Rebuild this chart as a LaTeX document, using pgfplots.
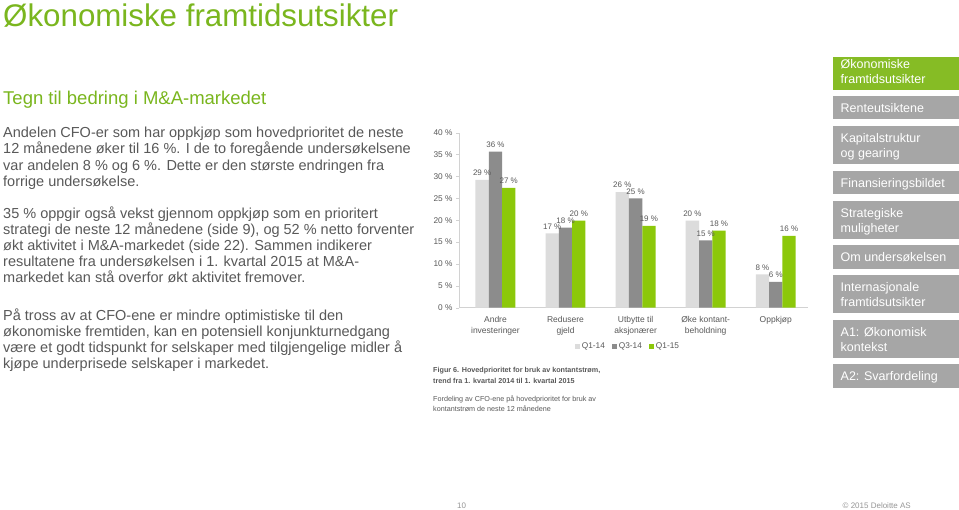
\documentclass[border=0pt]{standalone}
\usepackage{fontspec}
\setmainfont{Liberation Sans}
\usepackage{pgfplots}
\pgfplotsset{compat=1.18}

\definecolor{titlegreen}{RGB}{122,182,30}
\definecolor{sidegreen}{RGB}{134,188,37}
\definecolor{bargreen}{RGB}{140,200,10}
\definecolor{lightbar}{RGB}{220,220,220}
\definecolor{darkbar}{RGB}{140,140,140}
\definecolor{txt}{RGB}{89,89,89}
\definecolor{sidegray}{RGB}{166,166,166}
\definecolor{axisgray}{RGB}{210,210,210}
\definecolor{footgray}{RGB}{150,150,150}

\newcommand{\fs}[2][1.2]{\fontsize{#2}{#1\dimexpr #2pt\relax}\selectfont}

\begin{document}
\begin{tikzpicture}
\begin{scope}[x=1pt,y=1pt]
\path[use as bounding box, fill=white] (0,0) rectangle (959,509);

% titles (y counted from the top: 509 - y)
\node[anchor=base west, inner sep=0, text=titlegreen, font=\fs{31.3}] at (3,509-27) {Økonomiske framtidsutsikter};
\node[anchor=base west, inner sep=0, text=titlegreen, font=\fs{18.5}] at (3,509-105) {Tegn til bedring i M\&A-markedet};

% body text
\begin{scope}[every node/.style={anchor=base west, inner sep=0, text=txt, font=\fs{14.5}}]
\node at (3,509-137.7) {Andelen CFO-er som har oppkjøp som hovedprioritet de neste};
\node at (3,509-153.9) {12 månedene øker til 16 \%. I de to foregående undersøkelsene};
\node at (3,509-170.1) {var andelen 8 \% og 6 \%. Dette er den største endringen fra};
\node at (3,509-186.3) {forrige undersøkelse.};

\node at (3,509-218.5) {35 \% oppgir også vekst gjennom oppkjøp som en prioritert};
\node at (3,509-234.6) {strategi de neste 12 månedene (side 9), og 52 \% netto forventer};
\node at (3,509-250.7) {økt aktivitet i M\&A-markedet (side 22). Sammen indikerer};
\node at (3,509-266.8) {resultatene fra undersøkelsen i 1. kvartal 2015 at M\&A-};
\node at (3,509-282.9) {markedet kan stå overfor økt aktivitet fremover.};

\node at (3,509-320.7) {På tross av at CFO-ene er mindre optimistiske til den};
\node at (3,509-336.7) {økonomiske fremtiden, kan en potensiell konjunkturnedgang};
\node at (3,509-352.7) {være et godt tidspunkt for selskaper med tilgjengelige midler å};
\node at (3,509-368.7) {kjøpe underprisede selskaper i markedet.};
\end{scope}

% figure caption
\begin{scope}[every node/.style={anchor=base west, inner sep=0, text=txt, font=\fs{7.2}}]
\node[font=\fs{7.2}\bfseries] at (433,509-373) {Figur 6. Hovedprioritet for bruk av kontantstrøm,};
\node[font=\fs{7.2}\bfseries] at (433,509-384) {trend fra 1. kvartal 2014 til 1. kvartal 2015};
\node at (433,509-401.5) {Fordeling av CFO-ene på hovedprioritet for bruk av};
\node at (433,509-412) {kontantstrøm de neste 12 månedene};
\end{scope}

% side menu
\fill[sidegreen] (832.5,509-57) rectangle (959,509-90);
\fill[sidegray] (832.5,509-96) rectangle (959,509-119.5);
\fill[sidegray] (832.5,509-126) rectangle (959,509-164);
\fill[sidegray] (832.5,509-171) rectangle (959,509-194.5);
\fill[sidegray] (832.5,509-201) rectangle (959,509-239);
\fill[sidegray] (832.5,509-245.5) rectangle (959,509-269);
\fill[sidegray] (832.5,509-275.5) rectangle (959,509-313);
\fill[sidegray] (832.5,509-320) rectangle (959,509-358);
\fill[sidegray] (832.5,509-364.5) rectangle (959,509-388);
\begin{scope}[every node/.style={anchor=base west, inner sep=0, text=white, font=\fs{12.5}}]
\node at (840.5,509-68.5) {Økonomiske};
\node at (840.5,509-83.5) {framtidsutsikter};
\node at (840.5,509-112.3) {Renteutsiktene};
\node at (840.5,509-142.3) {Kapitalstruktur};
\node at (840.5,509-157.5) {og gearing};
\node at (840.5,509-187.3) {Finansieringsbildet};
\node at (840.5,509-217.3) {Strategiske};
\node at (840.5,509-232.5) {muligheter};
\node at (840.5,509-261.8) {Om undersøkelsen};
\node at (840.5,509-291.8) {Internasjonale};
\node at (840.5,509-307) {framtidsutsikter};
\node at (840.5,509-336.3) {A1: Økonomisk};
\node at (840.5,509-351.5) {kontekst};
\node at (840.5,509-380.8) {A2: Svarfordeling};
\end{scope}

% footer
\node[anchor=base west, inner sep=0, text=footgray, font=\fs{8}] at (457,509-508) {10};
\node[anchor=base east, inner sep=0, text=footgray, font=\fs{8}] at (911,509-508) {© 2015 Deloitte AS};
\end{scope}

\begin{axis}[
    at={(459pt,201.3pt)}, anchor=south west,
    scale only axis, width=349pt, height=175pt,
    ybar=0pt, bar width=13.3pt,
    xmin=-0.52, xmax=4.46, ymin=0, ymax=40,
    axis lines*=left,
    x axis line style={draw=axisgray},
    y axis line style={draw=axisgray},
    xtick={0,1,2,3,4},
    xticklabels={{Andre\\investeringer},{Redusere\\gjeld},{Utbytte til\\aksjonærer},{Øke kontant-\\beholdning},{Oppkjøp}},
    xticklabel style={align=center, font=\fontsize{8.5}{10.7}\selectfont, text=txt, yshift=-2pt},
    xtick style={draw=none},
    ytick={0,5,...,40},
    yticklabel={\pgfmathprintnumber{\tick}~\%},
    yticklabel style={font=\fs{8.3}, text=txt},
    /pgf/number format/assume math mode=true,
    tick align=outside, major tick length=3pt,
    ytick style={draw=axisgray},
    clip=false,
    nodes near coords={\pgfmathprintnumber[fixed,precision=0,assume math mode=true]{\pgfplotspointmeta}~\%},
    every node near coord/.append style={font=\fs{8}, text=txt, inner sep=1.5pt, yshift=2.5pt},
    legend style={at={(0.484,-0.219)}, anchor=center, draw=none, fill=none,
        legend columns=3, font=\fs{8.3}, text=txt,
        /tikz/every even column/.append style={column sep=5pt},
        inner sep=0pt},
]
\addplot[fill=lightbar, draw=none,
    legend image code/.code={\fill[lightbar] (0pt,-2.5pt) rectangle (5pt,2.5pt);}]
    coordinates {(0,29.2) (1,17.0) (2,26.4) (3,19.9) (4,7.6)};
\addplot[fill=darkbar, draw=none,
    legend image code/.code={\fill[darkbar] (0pt,-2.5pt) rectangle (5pt,2.5pt);}]
    coordinates {(0,35.7) (1,18.3) (2,25.0) (3,15.4) (4,5.9)};
\addplot[fill=bargreen, draw=none,
    legend image code/.code={\fill[bargreen] (0pt,-2.5pt) rectangle (5pt,2.5pt);}]
    coordinates {(0,27.4) (1,19.9) (2,18.7) (3,17.6) (4,16.4)};
\legend{Q1-14, Q3-14, Q1-15}
\end{axis}
\end{tikzpicture}
\end{document}
